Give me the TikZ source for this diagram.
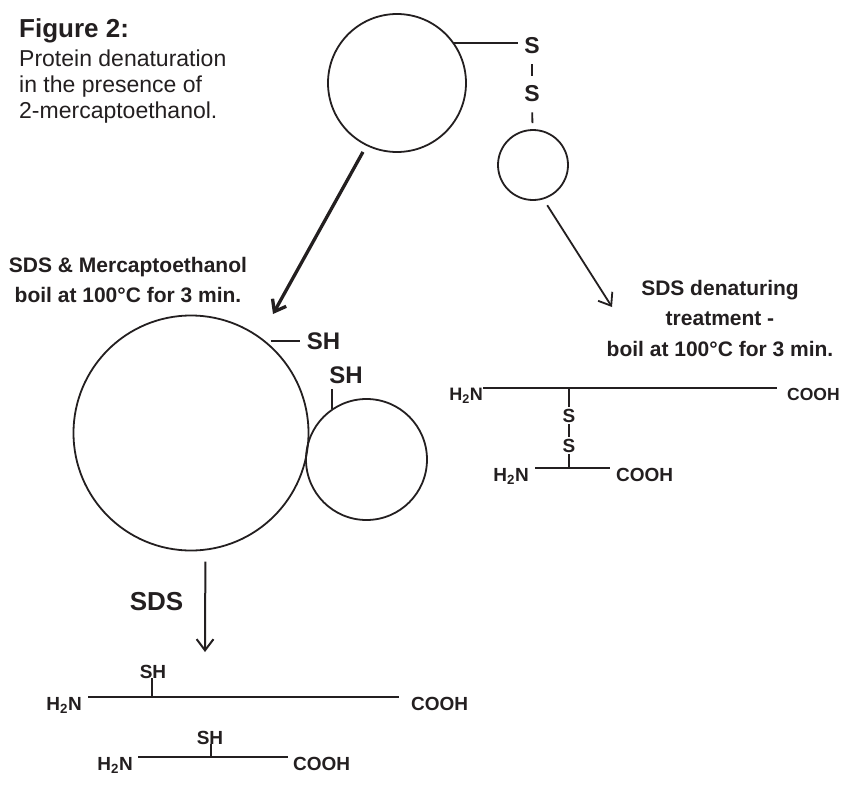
\documentclass[tikz,border=0pt]{standalone}
\usepackage{fontspec}
\setmainfont{Liberation Sans}
\usepackage{tikz}
\usetikzlibrary{positioning,arrows.meta,calc}
\definecolor{ink}{RGB}{35,31,32}
\tikzset{
  blob/.style={circle, draw=ink, line width=1.8pt, inner sep=0pt},
  bond/.style={draw=ink, line width=1.8pt},
  arr/.style={-{Straight Barb[angle=74:14pt]}, line width=2pt, draw=ink},
  thickarr/.style={-{Straight Barb[angle=74:13pt]}, line width=3.3pt, draw=ink},
  lbl/.style={inner sep=0pt, text=ink, align=center, font=\bfseries\fontsize{21}{30.5}\selectfont},
  chem/.style={inner sep=0pt, inner xsep=6pt, text=ink, font=\bfseries\fontsize{19}{19}\selectfont},
  sulf/.style={inner sep=2pt, text=ink, font=\bfseries\fontsize{19}{19}\selectfont},
  shlbl/.style={inner sep=0pt, text=ink, font=\bfseries\fontsize{24}{24}\selectfont},
}
\begin{document}
\begin{tikzpicture}[x=1pt, y=-1pt]
  \useasboundingbox (0,0) rectangle (846,806);
  % caption
  \node[anchor=base west, inner sep=0pt, text=ink, font=\bfseries\fontsize{26}{26}\selectfont] (figttl) at (19,37) {Figure 2:};
  \node[anchor=north west, inner sep=0pt, text=ink, align=left, font=\fontsize{23}{26}\selectfont] (figcap) at (19,49.2) {Protein denaturation\\in the presence of\\2-mercaptoethanol.};

  % native protein, two chains joined by S-S
  \node[blob, minimum size=138pt] (topbig) at (397,83) {};
  \node[blob, minimum size=70pt] (topsmall) at (533,165) {};
  \node[shlbl, font=\bfseries\fontsize{23}{23}\selectfont, inner sep=6pt] (tS1) at (532,46) {S};
  \node[shlbl, font=\bfseries\fontsize{23}{23}\selectfont, inner sep=6pt] (tS2) at (532,94) {S};
  \draw[bond] (topbig.35) -- (topbig.35 -| tS1.west);
  \draw[bond, shorten <=4pt, shorten >=4pt] (tS1) -- (tS2);
  \draw[bond, shorten <=4pt, shorten >=6pt] (tS2) -- (topsmall);

  % the two treatments
  \coordinate (tipL) at (273,314);
  \coordinate (tipR) at (612,307);
  \draw[thickarr, shorten <=7pt] (topbig.244) -- (tipL);
  \draw[arr, line width=1.8pt, shorten <=7pt] (topsmall.287) -- (tipR);
  \node[lbl, anchor=north] (lblL) at (128,256.8) {SDS \& Mercaptoethanol\\boil at 100°C for 3 min.};
  \node[lbl, anchor=north] (lblR) at (720,280) {SDS denaturing\\treatment -\\boil at 100°C for 3 min.};

  % reduced: free SH groups
  \node[blob, minimum size=235pt] (botbig) at (191,433) {};
  \node[blob, minimum size=121pt] (botsmall) at (366.5,459.5) {};
  \node[shlbl, inner xsep=7pt] (shA) at (323.5,341.7) {SH};
  \node[shlbl] (shB) at (346,375.5) {SH};
  \draw[bond, shorten <=5pt] (botbig.51) -- (botbig.51 -| shA.west);
  \draw[bond, shorten >=5pt] (botsmall.124) -- (botsmall.124 |- shB.south);

  \coordinate (tipD) at (205,652);
  \draw[arr, shorten <=11pt] (botbig.277) -- (tipD);
  \node[lbl, font=\bfseries\fontsize{26}{26}\selectfont] (sdsL) at (156.5,602) {SDS};

  % left: separated chains
  \node[chem, anchor=north east] (nA) at (88,697) {H\textsubscript{2}N};
  \node[chem, anchor=north west, inner xsep=12pt] (cA) at (399,697) {COOH};
  \draw[bond] (nA.north east) -- (cA.north west);
  \coordinate (jA) at (152,697);
  \node[chem, inner xsep=0pt] (pA) at (153,671.5) {SH};
  \draw[bond] (jA) -- (jA |- pA.south);

  \node[chem, anchor=north east, inner xsep=5pt] (nB) at (138,757) {H\textsubscript{2}N};
  \node[chem, anchor=north west, inner xsep=5pt] (cB) at (288,757) {COOH};
  \draw[bond] (nB.north east) -- (cB.north west);
  \coordinate (jB) at (211,757);
  \node[chem, inner xsep=0pt] (pB) at (210,737.5) {SH};
  \draw[bond] (jB) -- (jB |- pB.south);

  % right: chains still linked
  \node[chem, anchor=north east, inner xsep=0pt, font=\bfseries\fontsize{18}{18}\selectfont] (nR1) at (483,388) {H\textsubscript{2}N};
  \node[chem, anchor=north west, inner xsep=10pt, font=\bfseries\fontsize{17.5}{17.5}\selectfont] (cR1) at (777,388) {COOH};
  \draw[bond] (nR1.north east) -- (cR1.north west);
  \node[chem, anchor=north east] (nR2) at (535,468) {H\textsubscript{2}N};
  \node[chem, anchor=north west] (cR2) at (610,468) {COOH};
  \draw[bond] (nR2.north east) -- (cR2.north west);
  \coordinate (jR1) at (569,388);
  \coordinate (jR2) at (569,468);
  \node[sulf] (sR1) at (569,415.5) {S};
  \node[sulf] (sR2) at (569,445.5) {S};
  \draw[bond] (jR1) -- (sR1);
  \draw[bond] (sR1) -- (sR2);
  \draw[bond] (sR2) -- (jR2);
\end{tikzpicture}
\end{document}
